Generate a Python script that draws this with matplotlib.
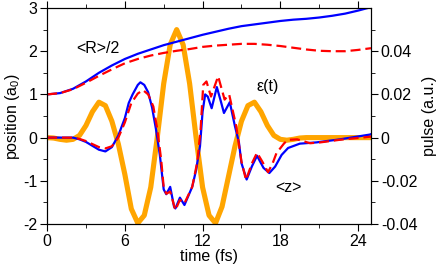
import matplotlib
matplotlib.use("Agg")
import matplotlib.pyplot as plt
from matplotlib.ticker import MultipleLocator, FixedLocator

plt.rcParams['font.family'] = ['Liberation Sans', 'DejaVu Sans']
plt.rcParams['mathtext.fontset'] = 'custom'
plt.rcParams['mathtext.rm'] = 'Liberation Sans'
plt.rcParams['axes.unicode_minus'] = False

# <R>/2 (position, a0)
t_R = [0, 1, 2, 3, 4, 5, 6, 7, 8, 9, 10, 11, 12, 13, 14, 15, 16, 17, 18, 19,
       20, 21, 22, 23, 24, 25]
R_blue = [1.0, 1.03, 1.13, 1.3, 1.5, 1.67, 1.82, 1.94, 2.04, 2.14, 2.22, 2.3,
          2.38, 2.45, 2.52, 2.58, 2.62, 2.66, 2.7, 2.73, 2.75, 2.78, 2.82,
          2.87, 2.94, 3.02]
R_red = [1.0, 1.03, 1.12, 1.27, 1.43, 1.58, 1.72, 1.82, 1.9, 1.96, 2.01, 2.05,
         2.1, 2.13, 2.15, 2.17, 2.17, 2.15, 2.12, 2.08, 2.04, 2.01, 2.0, 2.0,
         2.03, 2.07]

# <z> (position, a0)
t_zb = [0, 1, 2, 2.5, 3.0, 3.5, 4.0, 4.5, 5.0, 5.5, 6.0, 6.3, 6.6, 7.0, 7.2,
        7.5, 7.8, 8.1, 8.4, 8.7, 9.0, 9.2, 9.5, 9.8, 9.9, 10.25, 10.6, 11.2,
        11.5, 11.8, 12.0, 12.2, 12.4, 12.7, 13.1, 13.4, 13.65, 14.1, 14.5,
        14.8, 15.0, 15.4, 15.8, 16.2, 16.7, 17.15, 17.6, 18.1, 18.6, 19.5,
        20.8, 22.6, 24.9, 25]
z_blue = [0, 0, 0, -0.04, -0.1, -0.19, -0.28, -0.32, -0.22, 0.05, 0.45, 0.8,
          1.0, 1.22, 1.28, 1.22, 1.05, 0.7, 0.2, -0.4, -1.2, -1.31, -1.14,
          -1.6, -1.64, -1.39, -1.56, -1.14, -0.75, -0.2, 0.6, 1.0, 0.95, 0.68,
          1.17, 0.85, 0.57, 0.82, 0.26, -0.1, -0.59, -0.97, -0.67, -0.42,
          -0.7, -0.82, -0.67, -0.4, -0.24, -0.14, -0.11, -0.04, 0.07, 0.08]

t_zr = [0, 2, 2.5, 3.0, 3.5, 4.0, 4.5, 5.0, 5.5, 6.0, 6.5, 7.0, 7.4, 7.8, 8.2,
        8.5, 8.8, 9.0, 9.2, 9.5, 9.9, 10.25, 10.6, 11.2, 11.6, 11.85, 12.05,
        12.3, 12.65, 13.2, 13.7, 14.05, 14.6, 14.8, 15.0, 15.35, 15.8, 16.2,
        16.6, 17.05, 17.4, 17.7, 18.3, 18.6, 19.3, 20.3, 21.1, 22.6, 24.9, 25]
z_red = [0, 0, -0.03, -0.08, -0.15, -0.22, -0.25, -0.2, 0.0, 0.35, 0.8, 1.02,
         1.1, 1.0, 0.72, 0.2, -0.5, -1.15, -1.3, -1.25, -1.68, -1.44, -1.52,
         -1.14, -0.55, 0.2, 1.22, 1.3, 0.95, 1.42, 0.88, 1.0, 0.26, -0.15,
         -0.55, -0.98, -0.6, -0.35, -0.55, -0.8, -0.6, -0.36, -0.13, -0.05,
         -0.04, -0.13, -0.11, -0.05, 0.02, 0.02]

# pulse epsilon(t) (a.u.)
t_eps = [0, 0.5, 1.0, 1.5, 2.0, 2.5, 3.0, 3.5, 4.0, 4.5, 5.0, 5.5, 6.0, 6.5,
         7.0, 7.5, 8.0, 8.5, 9.0, 9.5, 10.0, 10.5, 11.0, 11.5, 12.0, 12.5,
         13.0, 13.5, 14.0, 14.5, 15.0, 15.5, 16.0, 16.5, 17.0, 17.5, 18.0,
         18.5, 19.0, 19.5, 20.0, 25.0]
eps = [0, -0.0002, -0.0008, -0.0012, -0.0008, 0.001, 0.0056, 0.012, 0.0164,
       0.0148, 0.0076, -0.003, -0.017, -0.033, -0.0396, -0.036, -0.023, 0.0,
       0.025, 0.043, 0.05, 0.043, 0.025, 0.0, -0.023, -0.036, -0.0396,
       -0.032, -0.018, -0.004, 0.0076, 0.0148, 0.0164, 0.012, 0.0056, 0.001,
       -0.0008, -0.0012, -0.0008, -0.0002, 0, 0]

left_ticks = [-2, -1, 0, 1, 2, 3]
right_ticks = [-0.04, -0.02, 0, 0.02, 0.04]
right_labels = ['-0.04', '-0.02', '0', '0.02', '0.04']

fs = 11.5

fig = plt.figure(figsize=(4.36, 2.67), dpi=100)
ax = fig.add_axes([0.108, 0.161, 0.743, 0.809])
ax2 = ax.twinx()
ax.set_zorder(ax2.get_zorder() + 1)
ax.patch.set_visible(False)

ax2.plot(t_eps, eps, color='#ffa500', lw=3.7, solid_capstyle='round',
         solid_joinstyle='round')

ax.plot(t_R, R_blue, color='#0000ff', lw=1.6, solid_joinstyle='round')
ax.plot(t_R, R_red, color='#ff0000', lw=1.6, dashes=(4.5, 2.2))
ax.plot(t_zb, z_blue, color='#0000ff', lw=1.6, solid_joinstyle='round')
ax.plot(t_zr, z_red, color='#ff0000', lw=1.6, dashes=(4.5, 2.2))

ax.set_xlim(0, 25)
ax.set_ylim(-2, 3)
ax2.set_ylim(-0.04, 0.06)

ax.xaxis.set_major_locator(FixedLocator([0, 6, 12, 18, 24]))
ax.xaxis.set_minor_locator(MultipleLocator(3))
ax.set_yticks(left_ticks)
ax.set_yticklabels([str(v) for v in left_ticks])
ax.yaxis.set_minor_locator(MultipleLocator(0.5))
ax2.set_yticks(right_ticks)
ax2.set_yticklabels(right_labels)
ax2.yaxis.set_minor_locator(FixedLocator([-0.03, -0.01, 0.01, 0.03, 0.05]))

ax.tick_params(which='both', direction='out', top=True, labelsize=fs, pad=2)
ax.tick_params(which='major', length=5)
ax.tick_params(which='minor', length=3)
ax2.tick_params(which='both', direction='out', labelsize=fs, pad=2)
ax2.tick_params(which='major', length=5)
ax2.tick_params(which='minor', length=3)

ax.set_xlabel('time (fs)', fontsize=fs, labelpad=0)
ax.set_ylabel('position (a$_0$)', fontsize=fs, labelpad=1)
ax2.set_ylabel('pulse (a.u.)', fontsize=fs, labelpad=3)

ax.text(3.9, 2.06, '<R>/2', fontsize=fs, ha='center', va='center')
ax.text(17.05, 1.18, 'ε(t)', fontsize=fs, ha='center', va='center')
ax.text(18.6, -1.16, '<z>', fontsize=fs, ha='center', va='center')

fig.savefig('out.png', dpi=100)
